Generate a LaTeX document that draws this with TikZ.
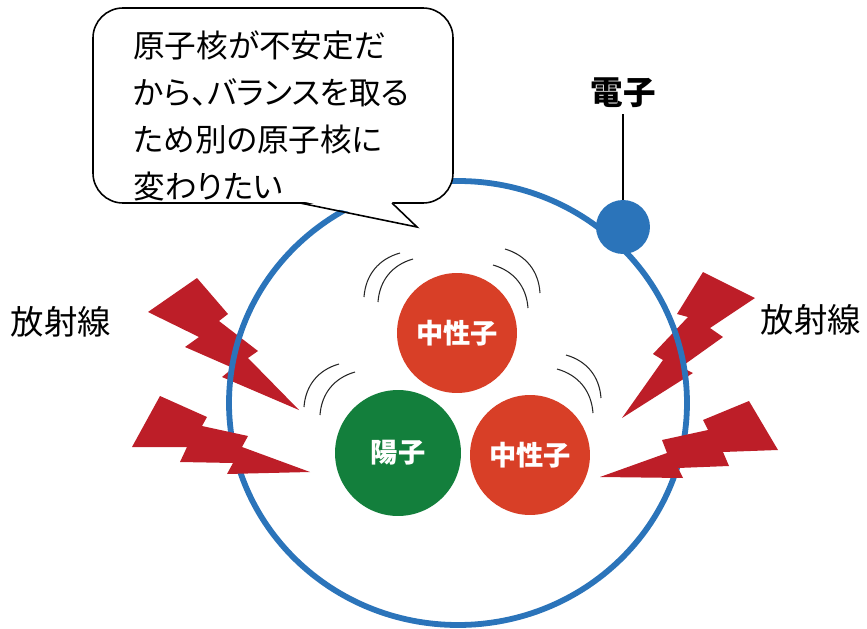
\documentclass[tikz,border=0pt]{standalone}
\usepackage{fontspec}
\newfontfamily\jpfont[RawFeature=+palt]{Noto Sans CJK JP}
\usetikzlibrary{shapes.geometric, positioning}

\definecolor{orbitblue}{HTML}{2B74BA}
\definecolor{neutronred}{HTML}{D83F27}
\definecolor{protongreen}{HTML}{137F3C}
\definecolor{boltred}{HTML}{BD1E28}

\begin{document}
\begin{tikzpicture}[
    x=0.02cm, y=-0.02cm,
    every node/.style={font=\jpfont},
    particle/.style={circle, minimum size=2.4cm, inner sep=0pt, text=white, font=\jpfont\bfseries\fontsize{15.5}{18}\selectfont},
    orbit/.style={draw=orbitblue, line width=3.3pt},
    bolt/.style={fill=boltred},
    wave/.style={draw=black!85, line width=0.6pt},
    bubble/.style={draw=black, line width=0.9pt, fill=white},
    rays/.style={font=\jpfont\fontsize{19}{22}\selectfont}
]
    \useasboundingbox (0,0) rectangle (867,629);

    % upper bolts sit under the orbit
    \fill[bolt] (148,312) -- (197,278) -- (228,314) -- (219,321) -- (258,351) -- (248,358)
        -- (299,410) -- (222,377) -- (233,368) -- (185,347) -- (199,337) -- cycle;
    \fill[bolt] (703,272) -- (755,298) -- (710,328) -- (723,337) -- (681,367) -- (693,373)
        -- (622,418) -- (663,360) -- (653,354) -- (688,317) -- (677,314) -- cycle;

    \draw[orbit] (458,403) ellipse [x radius=229, y radius=222];

    % lower bolts on top of it
    \fill[bolt] (132,447) -- (160,396) -- (207,417) -- (202,426) -- (248,436) -- (242,447)
        -- (310,472) -- (227,474) -- (233,463) -- (180,462) -- (187,447) -- cycle;
    \fill[bolt] (600,477) -- (667,453) -- (662,440) -- (708,430) -- (703,420) -- (749,401)
        -- (778,450) -- (723,452) -- (729,466) -- (678,468) -- (683,478) -- cycle;

    % nucleus
    \node[particle, fill=neutronred] (neutronA) at (457,333) {中性子};
    \node[particle, fill=protongreen, minimum size=2.52cm] (proton) at (398,453) {陽子};
    \node[particle, fill=neutronred] (neutronB) at (530,455) {中性子};

    % shaking marks
    \draw[wave] (400,253) to[bend right=35] (364,297);
    \draw[wave] (413,259) to[bend right=35] (378,302);
    \draw[wave] (505,249) to[bend left=35] (540,293);
    \draw[wave] (493,265) to[bend left=35] (528,308);
    \draw[wave] (339,364) to[bend right=35] (304,407);
    \draw[wave] (355,372) to[bend right=35] (320,415);
    \draw[wave] (566,355) to[bend left=35] (601,398);
    \draw[wave] (557,369) to[bend left=35] (593,413);

    % electron
    \node[circle, fill=orbitblue, minimum size=1.08cm, inner sep=0pt] (electron) at (623,227) {};
    \node[font=\jpfont\bfseries\fontsize{18.5}{21}\selectfont] (elabel) at (623,93) {電子};
    \draw[line width=0.6pt] (elabel) -- (electron);

    % speech bubble
    \draw[bubble, rounded corners=0.6cm] (93,8) rectangle (453,203);
    \fill[white] (301,201) -- (417,227) -- (391,201) -- cycle;
    \draw[line width=0.9pt, line join=miter] (300,203) -- (417,227) -- (392,203);
    \node[anchor=west, inner sep=0pt, align=left, font=\jpfont\fontsize{18}{26.6}\selectfont] (thought) at (133,116)
        {原子核が不安定だ\\から、バランスを取る\\ため別の原子核に\\変わりたい};

    \node[rays] (raysL) at (61,322) {放射線};
    \node[rays] (raysR) at (811,320) {放射線};
\end{tikzpicture}
\end{document}
